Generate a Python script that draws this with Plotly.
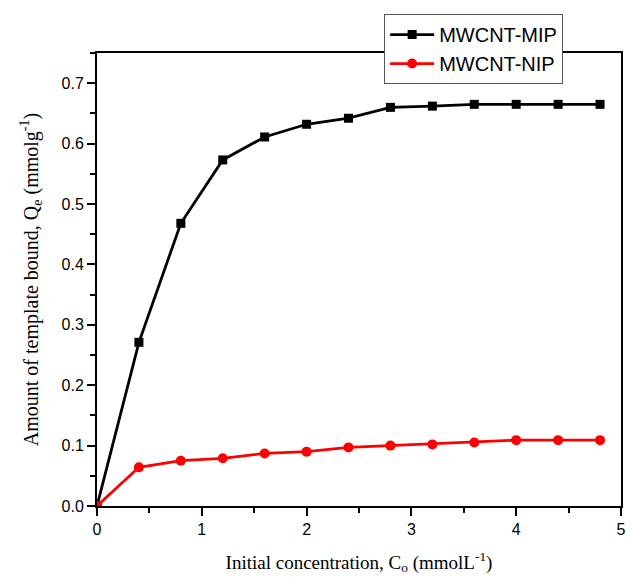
import plotly.graph_objects as go

# Initial concentration (mmol/L)
conc = [0, 0.4, 0.8, 1.2, 1.6, 2.0, 2.4, 2.8, 3.2, 3.6, 4.0, 4.4, 4.8]
# Amount bound (mmol/g)
mip = [0, 0.271, 0.468, 0.573, 0.611, 0.632, 0.642, 0.660, 0.662, 0.665, 0.665, 0.665, 0.665]
nip = [0, 0.064, 0.075, 0.079, 0.087, 0.090, 0.097, 0.100, 0.102, 0.105, 0.109, 0.109, 0.109]

fig = go.Figure()
fig.add_trace(go.Scatter(
    x=conc, y=mip, mode="lines+markers", name="MWCNT-MIP",
    line=dict(color="black", width=2.8),
    marker=dict(symbol="square", size=9, color="black"),
))
fig.add_trace(go.Scatter(
    x=conc, y=nip, mode="lines+markers", name="MWCNT-NIP",
    line=dict(color="#ff0000", width=2.8),
    marker=dict(symbol="circle", size=10, color="#ff0000"),
))

tick_font = dict(family="Liberation Sans", size=16, color="black")

fig.update_layout(
    width=630, height=580,
    margin=dict(l=97, r=4, t=53, b=74),
    plot_bgcolor="white", paper_bgcolor="white",
    showlegend=True,
    legend=dict(
        x=0.548, y=1.086, xanchor="left", yanchor="top",
        bgcolor="white", bordercolor="#555555", borderwidth=1,
        font=dict(family="Liberation Sans", size=20, color="black"),
        tracegroupgap=0, itemwidth=44,
    ),
    xaxis=dict(
        range=[0, 5], dtick=1, tick0=0,
        showgrid=False, zeroline=False,
        showline=True, linecolor="black", linewidth=2, mirror=True,
        ticks="outside", ticklen=8, tickwidth=2, tickcolor="black",
        minor=dict(ticks="outside", ticklen=5, tickwidth=2, dtick=0.5, tickcolor="black", showgrid=False),
        tickfont=tick_font,
        title=dict(text="Initial concentration, C<sub>o</sub> (mmolL<sup>-1</sup>)",
                   font=dict(family="Liberation Serif", size=19, color="black"), standoff=18),
    ),
    yaxis=dict(
        range=[0, 0.75], dtick=0.1, tick0=0, tickformat=".1f",
        showgrid=False, zeroline=False,
        showline=True, linecolor="black", linewidth=2, mirror=True,
        ticks="outside", ticklen=8, tickwidth=2, tickcolor="black",
        minor=dict(ticks="outside", ticklen=5, tickwidth=2, dtick=0.05, tickcolor="black", showgrid=False),
        tickfont=tick_font,
        title=dict(text="Amount of template bound, Q<sub>e</sub> (mmolg<sup>-1</sup>)",
                   font=dict(family="Liberation Serif", size=20, color="black"), standoff=18),
    ),
)

fig.write_html("out.html")
